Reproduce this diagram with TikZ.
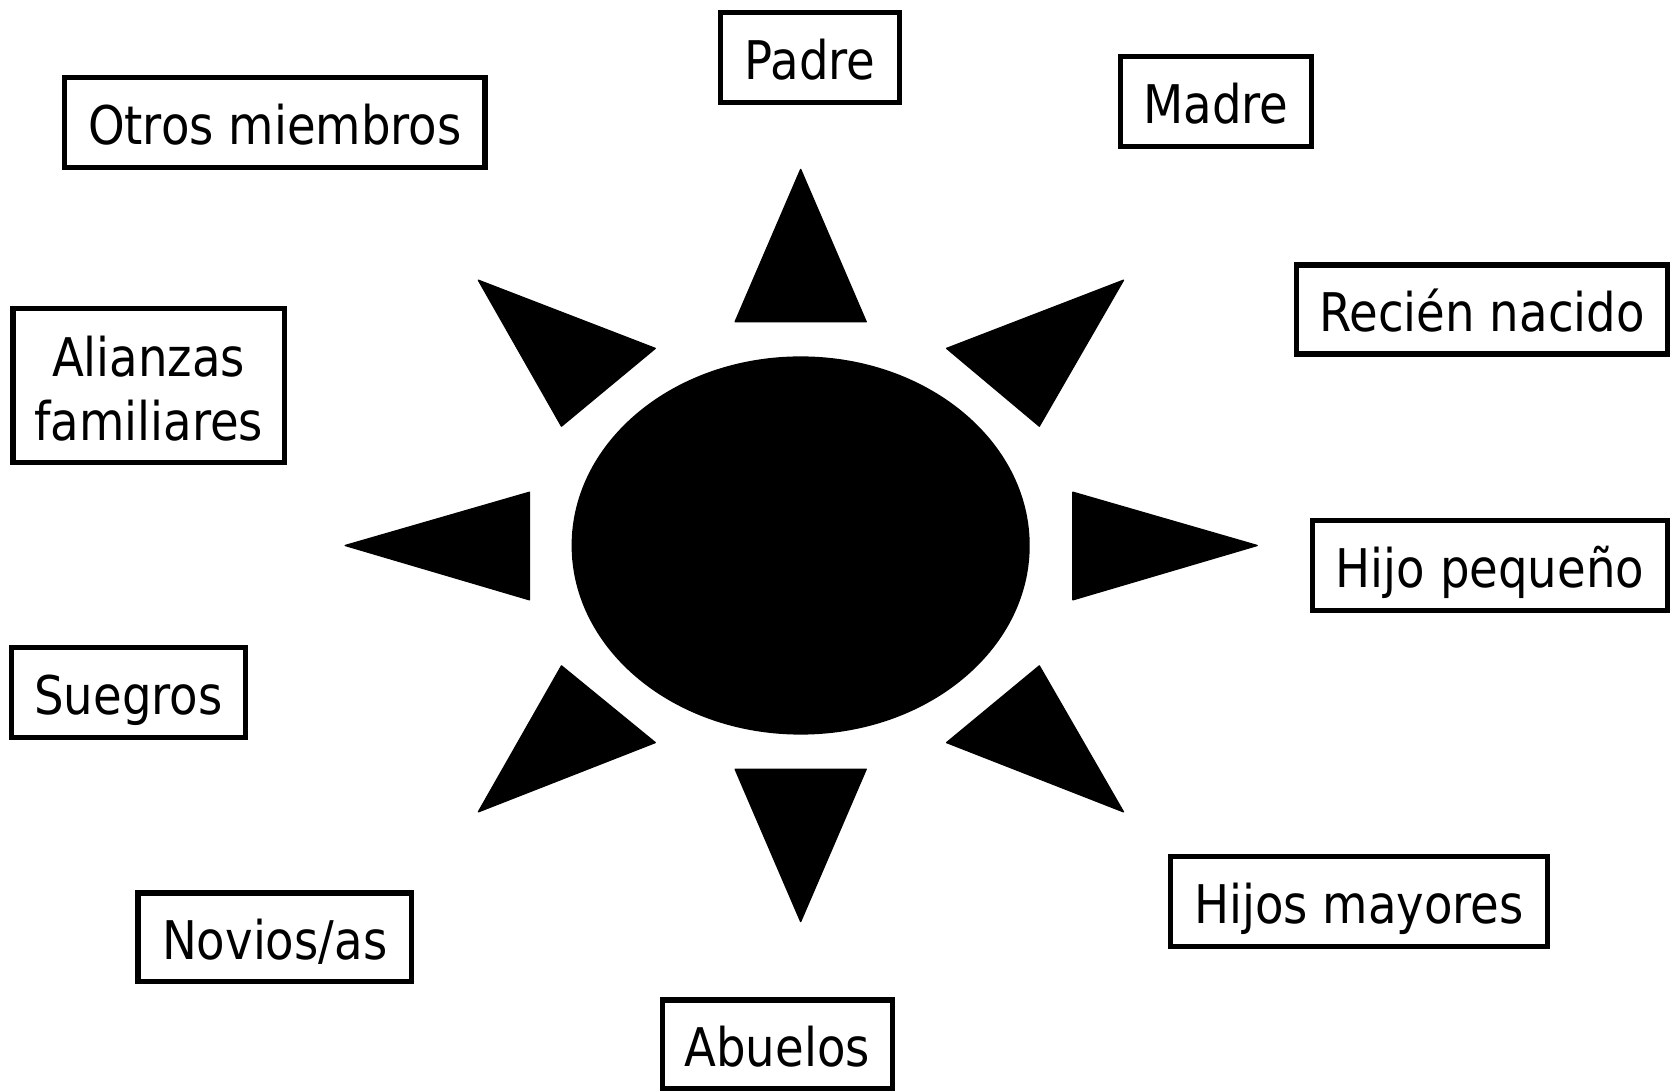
\documentclass[tikz,border=0pt]{standalone}
\usepackage{fontspec}
\usetikzlibrary{shapes.geometric}
\setmainfont[FakeStretch=0.875]{DejaVu Sans}
\begin{document}
\begin{tikzpicture}[x=0.8pt,y=-0.8pt,
  lab/.style={draw=black,line width=4pt,fill=white,inner sep=0pt,align=center,text height=36pt,text depth=3.2pt,font=\fontsize{40}{48}\selectfont},
  ray/.style={fill=black,draw=black,line width=1pt,line join=round}]
\useasboundingbox (0,0) rectangle (1568.4,1024);
\node[fill=black,draw=none,ellipse,minimum width=344pt,minimum height=284pt,inner sep=0pt] (sun) at (751.5,512) {};
\node[lab,minimum width=134pt,minimum height=67.7pt] (padre) at (760.2,54) {Padre};
\node[lab,minimum width=143pt,minimum height=67.7pt] (madre) at (1141.3,95.3) {Madre};
\node[lab,minimum width=278.7pt,minimum height=66.7pt] (recien) at (1391,290.5) {Recién nacido};
\node[lab,minimum width=266.7pt,minimum height=67.7pt] (hijo) at (1398.5,531) {Hijo pequeño};
\node[lab,minimum width=282.7pt,minimum height=67.7pt] (hijos) at (1275.5,846.3) {Hijos mayores};
\node[lab,minimum width=172.7pt,minimum height=66.7pt] (abuelos) at (729.5,980.3) {Abuelos};
\node[lab,minimum width=205.2pt,minimum height=66.7pt] (novios) at (257.8,879.7) {Novios/as};
\node[lab,minimum width=175.7pt,minimum height=67.7pt] (suegros) at (120.5,650) {Suegros};
\node[lab,minimum width=203.7pt,minimum height=115.7pt,text height=81.6pt,text depth=0pt] (alianzas) at (139.5,362) {Alianzas\\familiares};
\node[lab,minimum width=315.7pt,minimum height=67.7pt] (otros) at (258,115) {Otros miembros};
\draw[ray] (751.5,159) -- (813,302) -- (690,302) -- cycle;
\draw[ray] (751.5,865) -- (813,722) -- (690,722) -- cycle;
\draw[ray] (1054.5,263) -- (888.5,327) -- (975.5,400) -- cycle;
\draw[ray] (449,263) -- (615,327) -- (527,400) -- cycle;
\draw[ray] (1054.5,762) -- (888.5,697) -- (975.5,625) -- cycle;
\draw[ray] (449,762) -- (615,697) -- (527,625) -- cycle;
\draw[ray] (1180,512) -- (1007,462) -- (1007,563) -- cycle;
\draw[ray] (324,512) -- (497,462) -- (497,563) -- cycle;
\end{tikzpicture}
\end{document}
